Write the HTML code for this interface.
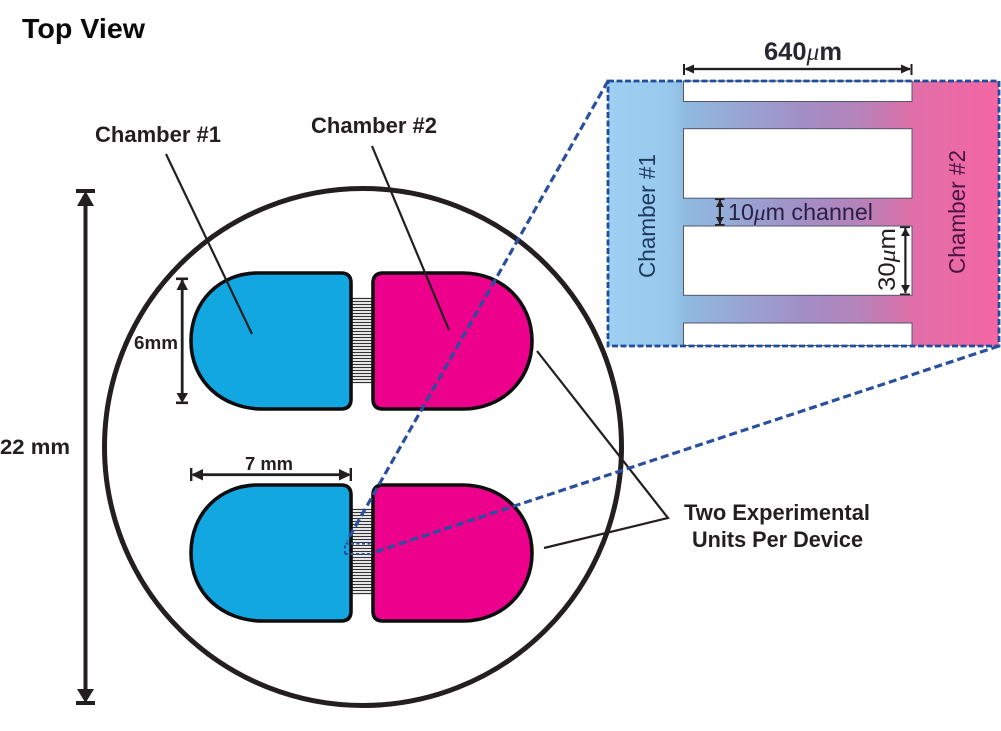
<!DOCTYPE html>
<html><head><meta charset="utf-8"><style>
html,body{margin:0;padding:0;background:#fff;width:1001px;height:731px;overflow:hidden}
svg{display:block}
text{font-family:"Liberation Sans",sans-serif;fill:#231f20}
.b{font-weight:bold}
.mu{font-family:"Liberation Serif",serif;font-style:italic}
</style></head><body>
<svg width="1001" height="731" viewBox="0 0 1001 731" xmlns="http://www.w3.org/2000/svg">
<defs>
<linearGradient id="g" gradientUnits="userSpaceOnUse" x1="608" y1="0" x2="999" y2="0">
<stop offset="0" stop-color="#9fd0f2"/>
<stop offset="0.16" stop-color="#98c8ec"/>
<stop offset="0.2" stop-color="#8fbae0"/>
<stop offset="0.5" stop-color="#a28ec4"/>
<stop offset="0.645" stop-color="#b583ba"/>
<stop offset="0.78" stop-color="#e06fa8"/>
<stop offset="1" stop-color="#f566a4"/>
</linearGradient>
<g id="comb" stroke="#333" stroke-width="1.3">
<path d="M351 0.500H373M351 3.500H373M351 6.500H373M351 9.500H373M351 12.500H373M351 15.500H373M351 18.500H373M351 21.500H373M351 24.500H373M351 27.500H373M351 30.500H373M351 33.500H373M351 36.500H373M351 39.500H373M351 42.500H373M351 45.500H373M351 48.500H373M351 51.500H373M351 54.500H373M351 57.500H373M351 60.500H373M351 63.500H373M351 66.500H373M351 69.500H373M351 72.500H373M351 75.500H373M351 78.500H373M351 81.500H373M351 84.500H373"/>
</g>
<g id="unit">
<path d="M258 0H341Q351 0 351 10V126Q351 136 341 136H263C222 136 191 108 191 68C191 28 220 0 258 0Z" fill="#13a7e2" stroke="#0d0d0f" stroke-width="3.6"/>
<path d="M383 0H463C502 0 532 29 532 68C532 107 502 136 463 136H383Q373 136 373 126V10Q373 0 383 0Z" fill="#ec008c" stroke="#0d0d0f" stroke-width="3.6"/>
</g>
</defs>

<circle cx="363" cy="447" r="258.5" fill="none" stroke="#231f20" stroke-width="5"/>

<use href="#comb" y="298"/>
<use href="#comb" y="509"/>
<use href="#unit" y="273"/>
<use href="#unit" y="485"/>

<!-- leaders -->
<g stroke="#231f20" stroke-width="2.2" fill="none">
<path d="M166 154L252 334"/>
<path d="M372 146L449 330"/>
<path d="M537 351L668 518L544 548"/>
</g>

<!-- 22mm arrow -->
<g fill="#231f20" stroke="none">
<rect x="83.5" y="196" width="4" height="502"/>
<rect x="76" y="189" width="19" height="4"/>
<path d="M85.5 191L94 206H77Z"/>
<rect x="76" y="701" width="19" height="4"/>
<path d="M85.5 703L94 689H77Z"/>
<!-- 6mm arrow -->
<rect x="180.800" y="280" width="2.800" height="118"/>
<rect x="176" y="277.500" width="12" height="2.6"/>
<path d="M182.200 279L188 290H176.500Z"/>
<rect x="176" y="401.500" width="12" height="2.6"/>
<path d="M182.200 403L188 393H176.500Z"/>
<!-- 7mm arrow -->
<rect x="193" y="473.300" width="156" height="2.800"/>
<rect x="190" y="468" width="2.4" height="13"/>
<path d="M191 474.700L203 469V480.500Z"/>
<rect x="349.600" y="468" width="2.4" height="13"/>
<path d="M351 474.700L339 469V480.500Z"/>
</g>

<!-- inset -->
<rect x="608" y="81" width="391" height="265" fill="url(#g)"/>
<g fill="#fff" stroke="#55566e" stroke-width="1">
<rect x="683.500" y="81" width="228.500" height="20.500"/>
<rect x="683.500" y="128.700" width="228.500" height="69.500"/>
<rect x="683.500" y="226" width="228.500" height="69.300"/>
<rect x="683.500" y="323" width="228.500" height="22.500"/>
</g>
<rect x="608" y="81" width="391" height="265" fill="none" stroke="#1f4e9c" stroke-width="2.800" stroke-dasharray="6 2.500"/>

<!-- dashed zoom lines -->
<g fill="none" stroke="#2a4f9f" stroke-width="3.200" stroke-dasharray="8 4">
<path d="M608 81L347 541"/>
<path d="M999 346L372 553"/>
</g>
<g fill="none" stroke="#2a4f9f" stroke-width="2" stroke-dasharray="3 2.500">
<path d="M345 554V543.500H372"/>
<path d="M345 554H372"/>
</g>

<!-- inset arrows -->
<g fill="#231f20">
<rect x="686" y="67.800" width="224" height="2.400"/>
<rect x="683" y="64" width="2" height="11"/>
<path d="M684 69L694 64.500V73.500Z"/>
<rect x="910.500" y="64" width="2" height="11"/>
<path d="M911 69L901 64.500V73.500Z"/>
<rect x="718.800" y="200" width="2.200" height="24"/>
<rect x="715" y="198.500" width="9.500" height="1.600"/>
<path d="M719.900 200L724 207H715.800Z"/>
<rect x="715" y="224" width="9.500" height="1.600"/>
<path d="M719.900 224L724 217H715.800Z"/>
<rect x="904.300" y="228" width="2.200" height="65"/>
<rect x="900" y="226.500" width="10" height="1.600"/>
<path d="M905.400 228L910 236H901Z"/>
<rect x="900" y="293.500" width="10" height="1.600"/>
<path d="M905.400 293L910 285H901Z"/>
</g>

<!-- labels -->
<text x="22" y="38" class="b" font-size="28" textLength="123" lengthAdjust="spacingAndGlyphs" style="fill:#0a0a0a">Top View</text>
<text x="95" y="142" class="b" font-size="22" textLength="126" lengthAdjust="spacingAndGlyphs">Chamber #1</text>
<text x="311" y="133" class="b" font-size="22" textLength="126" lengthAdjust="spacingAndGlyphs">Chamber #2</text>
<text x="134" y="349" class="b" font-size="18" textLength="44" lengthAdjust="spacingAndGlyphs">6mm</text>
<text x="0" y="454" class="b" font-size="21" textLength="70" lengthAdjust="spacingAndGlyphs">22 mm</text>
<text x="245" y="470" class="b" font-size="18" textLength="48" lengthAdjust="spacingAndGlyphs">7 mm</text>
<text x="684" y="520" class="b" font-size="22" textLength="186" lengthAdjust="spacingAndGlyphs">Two Experimental</text>
<text x="692" y="547" class="b" font-size="22" textLength="171" lengthAdjust="spacingAndGlyphs">Units Per Device</text>
<text x="764" y="60" font-size="25" textLength="78" lengthAdjust="spacingAndGlyphs" style="font-weight:bold;fill:#2a2730">640<tspan class="mu" font-weight="normal">μ</tspan>m</text>
<text x="728" y="220" font-size="23" textLength="145" lengthAdjust="spacingAndGlyphs" style="fill:#2a1f45">10<tspan class="mu">μ</tspan>m channel</text>
<text transform="translate(655 278) rotate(-90)" font-size="23" textLength="124" lengthAdjust="spacingAndGlyphs" style="fill:#1d3a5c">Chamber #1</text>
<text transform="translate(965 274) rotate(-90)" font-size="23" textLength="124" lengthAdjust="spacingAndGlyphs" style="fill:#4a1440">Chamber #2</text>
<text transform="translate(895 291) rotate(-90)" font-size="24" textLength="63" lengthAdjust="spacingAndGlyphs" style="fill:#231f20">30<tspan class="mu">μ</tspan>m</text>
</svg>
</body></html>
